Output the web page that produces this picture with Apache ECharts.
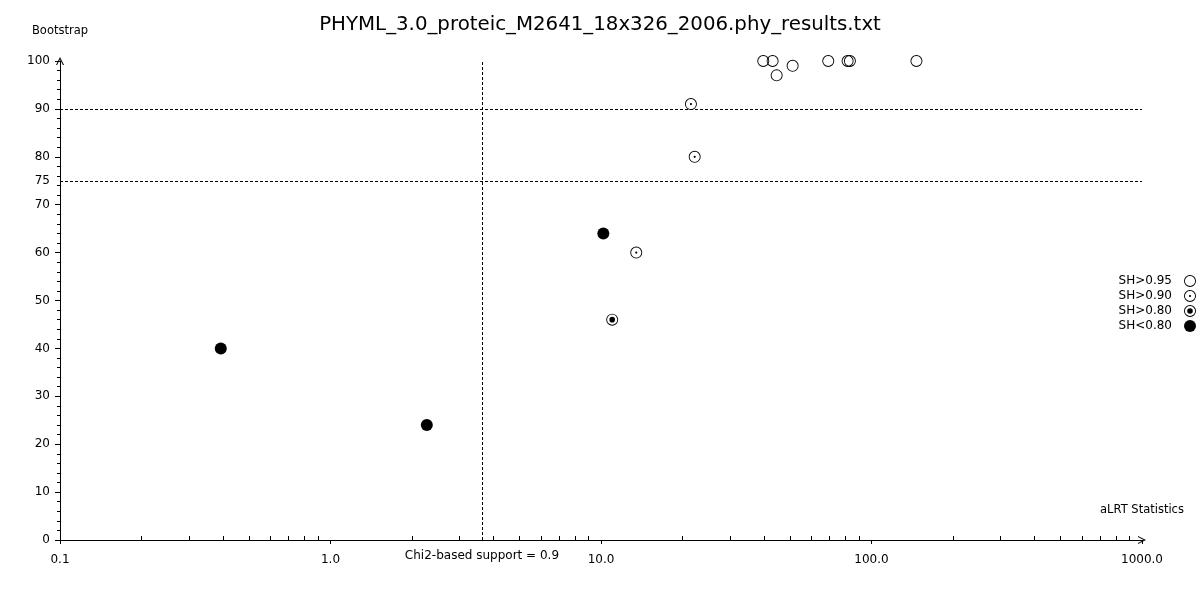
<!DOCTYPE html>
<html>
<head>
<meta charset="utf-8">
<script src="https://cdn.jsdelivr.net/npm/echarts@6/dist/echarts.min.js"></script>
<style>
  html, body { margin: 0; padding: 0; background: #fff; }
  #chart { width: 1200px; height: 600px; }
</style>
</head>
<body>
<div id="chart"></div>
<script>
// aLRT statistic vs bootstrap support, grouped by SH-like support class
const groupNames = ['SH>0.95', 'SH>0.90', 'SH>0.80', 'SH<0.80'];

const sh95 = [
  [39.8, 100], [43.1, 100], [44.6, 97], [51.1, 99],
  [69.2, 100], [81.6, 100], [83.2, 100], [146.6, 100]
];
const sh90 = [[21.5, 91], [22.2, 80], [13.5, 60]];
const sh80 = [[11.0, 46]];
const shLow = [[10.2, 64], [0.393, 40], [2.27, 24]];

const xMajorTicks = [0.1, 1, 10, 100, 1000];
const xMinorTicks = [
  0.2, 0.3, 0.4, 0.5, 0.6, 0.7, 0.8, 0.9,
  2, 3, 4, 5, 6, 7, 8, 9,
  20, 30, 40, 50, 60, 70, 80, 90,
  200, 300, 400, 500, 600, 700, 800, 900
];
const chi2Support = 3.63;   // "Chi2-based support = 0.9"
const bootLines = [90, 75];

const font = 'DejaVu Sans';
const ring = 'M12,0 A12,12 0 1 1 12,24 A12,12 0 1 1 12,0 Z M12,1.8 A10.2,10.2 0 1 0 12,22.2 A10.2,10.2 0 1 0 12,1.8 Z';
const dot = r => 'M12,' + (12 - r) + ' A' + r + ',' + r + ' 0 1 1 12,' + (12 + r) + ' A' + r + ',' + r + ' 0 1 1 12,' + (12 - r) + ' Z';
const arrow = 'path://M0,10 L5,0 L10,10 L8.6,10 L5,2.8 L1.4,10 Z';

const chart = echarts.init(document.getElementById('chart'));

const dashed = { color: '#000', width: 1, type: [3, 2] };

function sc(name, data, symbol, extra) {
  return Object.assign({
    name: name,
    type: 'scatter',
    xAxisIndex: 0,
    data: data,
    symbol: symbol,
    symbolSize: 12,
    itemStyle: { color: '#000', opacity: 1 },
    emphasis: { disabled: true },
    z: 5
  }, extra || {});
}

chart.setOption({
  animation: false,
  backgroundColor: '#fff',
  title: {
    text: 'PHYML_3.0_proteic_M2641_18x326_2006.phy_results.txt',
    left: 'center',
    top: 10,
    textStyle: { fontFamily: font, fontSize: 19.8, fontWeight: 'normal', color: '#000' }
  },
  legend: {
    data: groupNames,
    orient: 'vertical',
    right: 4,
    top: 275,
    padding: 0,
    align: 'right',
    itemWidth: 12,
    itemHeight: 12,
    itemGap: 3,
    selectedMode: false,
    textStyle: { fontFamily: font, fontSize: 12, color: '#000', padding: [0, 7, 0, 0] }
  },
  grid: { left: 60, right: 58, top: 61, bottom: 60 },
  xAxis: [
    {
      type: 'log',
      logBase: 10,
      min: 0.1,
      max: 1000,
      name: 'aLRT Statistics',
      nameLocation: 'end',
      nameGap: 0,
      nameTextStyle: {
        fontFamily: font, fontSize: 11.5, color: '#000',
        align: 'center', verticalAlign: 'bottom', padding: [0, 0, 24, 0]
      },
      axisLine: { show: true, lineStyle: { color: '#000', width: 1 }, symbol: ['none', arrow], symbolSize: [9, 8] },
      axisTick: { show: true, customValues: xMajorTicks, length: 4, lineStyle: { color: '#000' } },
      axisLabel: {
        customValues: xMajorTicks,
        margin: 14,
        fontFamily: font, fontSize: 12, color: '#000',
        formatter: v => Number(v).toFixed(1)
      },
      splitLine: { show: false },
      minorTick: { show: false }
    },
    {
      type: 'log',
      logBase: 10,
      min: 0.1,
      max: 1000,
      position: 'bottom',
      axisLine: { show: false },
      axisTick: { show: true, inside: true, customValues: xMinorTicks, length: 4, lineStyle: { color: '#000' } },
      axisLabel: { show: false },
      splitLine: { show: false }
    }
  ],
  yAxis: {
    type: 'value',
    min: 0,
    max: 100,
    interval: 10,
    name: 'Bootstrap',
    nameLocation: 'end',
    nameGap: 24,
    nameTextStyle: { fontFamily: font, fontSize: 11.5, color: '#000' },
    axisLine: { show: true, lineStyle: { color: '#000', width: 1 }, symbol: ['none', arrow], symbolSize: [9, 8] },
    axisTick: { show: true, length: 5, lineStyle: { color: '#000' } },
    minorTick: { show: true, splitNumber: 5, length: 3, lineStyle: { color: '#000' } },
    axisLabel: { margin: 10, fontFamily: font, fontSize: 12, color: '#000' },
    splitLine: { show: false }
  },
  series: [
    sc(groupNames[0], sh95, 'path://' + ring, {
      markLine: {
        silent: true,
        symbol: ['none', 'none'],
        lineStyle: dashed,
        label: { fontFamily: font, fontSize: 12, color: '#000' },
        data: [
          { yAxis: bootLines[0], label: { show: false } },
          { yAxis: bootLines[1], label: { show: true, position: 'start', distance: 10, formatter: String(bootLines[1]) } },
          { xAxis: chi2Support, label: { show: true, position: 'start', distance: 10, formatter: 'Chi2-based support = 0.9' } }
        ]
      }
    }),
    sc(groupNames[1], sh90, 'path://' + ring + ' ' + dot(2.2)),
    sc(groupNames[2], sh80, 'path://' + ring + ' ' + dot(5.6)),
    sc(groupNames[3], shLow, 'circle')
  ]
});
</script>
</body>
</html>
